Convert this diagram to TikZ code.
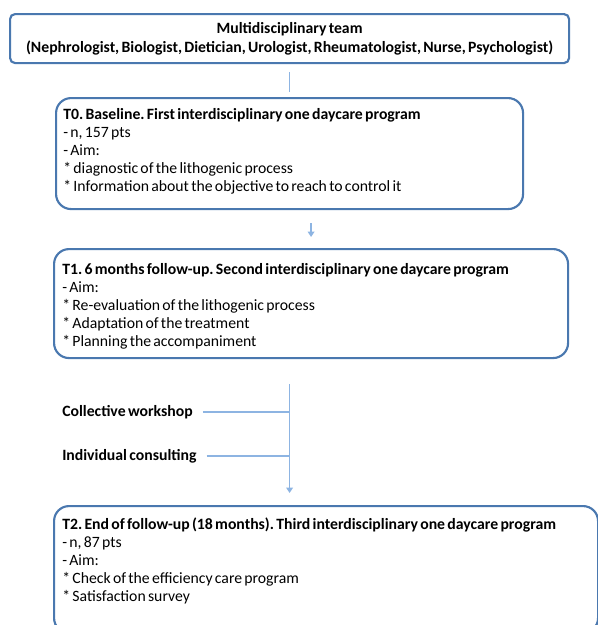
\documentclass[tikz,border=0pt]{standalone}
\usepackage{fontspec}
\setmainfont{Carlito}[WordSpace=0.65]
\frenchspacing
\usetikzlibrary{positioning, arrows.meta}
\definecolor{boxblue}{RGB}{74,120,175}
\definecolor{linkblue}{RGB}{141,180,226}
\tikzset{
      stage/.style={draw=boxblue, line width=1.6pt, rounded corners=11.25pt,
        inner sep=0pt, anchor=north west},
      stagetext/.style={anchor=north west, inner sep=0pt, align=left,
        font=\fontsize{11.8pt}{13.5pt}\selectfont},
      link/.style={draw=linkblue, line width=1.1pt},
      tip/.style={-{Triangle[length=4pt,width=5pt]}}
    }

\begin{document}
\begin{tikzpicture}[x=0.75pt, y=-0.75pt]
\useasboundingbox (0,0) rectangle (598,625);
% team on top
\node[stage, rounded corners=3.75pt, minimum width=419.25pt, minimum height=36.75pt,
  align=center, font=\bfseries\fontsize{11.8pt}{14.25pt}\selectfont] (team) at (9,13)
  {Multidisciplinary team\\(Nephrologist, Biologist, Dietician, Urologist, Rheumatologist, Nurse, Psychologist)};
% T0
\node[stage, minimum width=350.25pt, minimum height=83.25pt] (t0) at (55,97) {};
\node[stagetext] (t0text) at (63,108) {\textbf{T0. Baseline. First interdisciplinary one daycare program}\\
  - n, 157 pts\\
  - Aim:\\
  * diagnostic of the lithogenic process\\
  * Information about the objective to reach to control it};
% T1
\node[stage, minimum width=385.5pt, minimum height=81.75pt] (t1) at (53,248) {};
\node[stagetext] (t1text) at (62,263) {\textbf{T1. 6 months follow-up. Second interdisciplinary one daycare program}\\
  - Aim:\\
  * Re-evaluation of the lithogenic process\\
  * Adaptation of the treatment\\
  * Planning the accompaniment};
% T2, cut by the page edge
\begin{scope}
\clip (0,0) rectangle (598,625);
\node[stage, minimum width=408pt, minimum height=95.25pt] (t2) at (53,505) {};
\end{scope}
\node[stagetext] (t2text) at (62,518) {\textbf{T2. End of follow-up (18 months). Third interdisciplinary one daycare program}\\
  - n, 87 pts\\
  - Aim:\\
  * Check of the efficiency care program\\
  * Satisfaction survey};
% side inputs
\node[stagetext, anchor=west, font=\bfseries\fontsize{11.8pt}{13.5pt}\selectfont] (coll) at (62,412) {Collective workshop};
\node[stagetext, anchor=west, font=\bfseries\fontsize{11.8pt}{13.5pt}\selectfont] (indiv) at (62,456) {Individual consulting};

\draw[link, shorten <=6pt, shorten >=3.75pt] (team.south) -- (team.south |- t0.north);
\draw[link, tip, shorten <=9.75pt, shorten >=8.25pt] (t0.south -| t1.north) -- (t1.north);
\draw[link, tip, shorten <=18.75pt, shorten >=9pt] (t1.south -| team.south) -- (t2.north -| team.south);
\draw[link, shorten <=7.5pt] (coll.east) -- (coll.east -| team.south);
\draw[link, shorten <=7.5pt] (indiv.east) -- (indiv.east -| team.south);
\end{tikzpicture}
\end{document}
